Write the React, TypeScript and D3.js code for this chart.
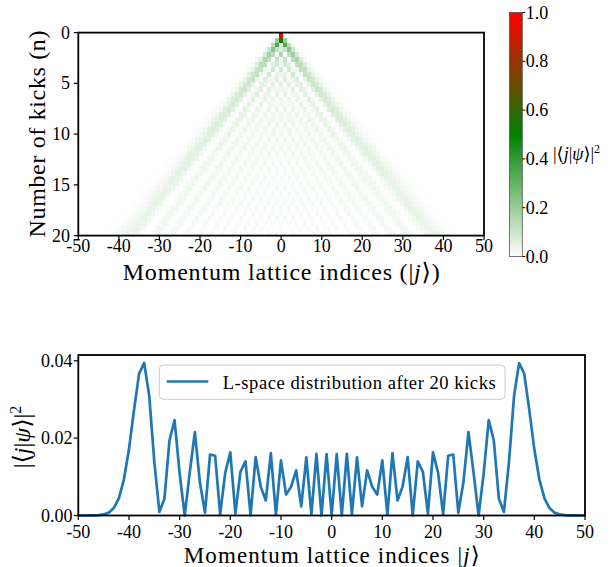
import React from "react";
import * as d3 from "d3";

// ---------- data ----------
// momentum lattice indices (columns of the map, x of the line plot)
const J_VALUES: number[] = d3.range(-50, 51);

// kick number of each heat-map row (half-kick resolution)
const KICK_ROWS: number[] = [
  0, 0.5, 1, 1.5, 2, 2.5, 3, 3.5, 4, 4.5, 5, 5.5, 6, 6.5, 7, 7.5, 8, 8.5, 9, 9.5,
  10, 10.5, 11, 11.5, 12, 12.5, 13, 13.5, 14, 14.5, 15, 15.5, 16, 16.5, 17, 17.5,
  18, 18.5, 19, 19.5, 20,
];

// probability levels used to encode the heat map (index = base-36 digit)
const PROB_LEVELS: number[] = [
  0, 0.003, 0.006, 0.01, 0.014, 0.018, 0.022, 0.027, 0.032, 0.038, 0.045, 0.052,
  0.06, 0.07, 0.08, 0.09, 0.1, 0.115, 0.13, 0.145, 0.16, 0.18, 0.2, 0.225, 0.25,
  0.28, 0.31, 0.34, 0.38, 0.43, 0.5, 0.58, 0.66, 0.76, 0.88, 1.0,
];

// |<j|psi>|^2 per row, for |j| = 0,1,2,... (the map is symmetric in j); missing = 0
const HEAT_ROWS: string[] = [
  "z",
  "vm4",
  "bri5",
  "dhng51",
  "k1ile51",
  "8h1ikd51",
  "6ec4iic51",
  "f0f77hhb51",
  "8b4f38hgb51",
  "3c68d1ahfa41",
  "c1c1ab0agfa41",
  "885b0c90bge941",
  "1b2982c71bfd941",
  "a2a0a54c62bfd941",
  "85682b26b42bec841",
  "0a1945a08b33cec842",
  "8381917809a24cdc842",
  "73754809619914cdb842",
  "09082661942a805bdb742",
  "637280843933a705bdb742",
  "7273561824814a606bca742",
  "080807338068059506bca742",
  "4453708157077069406bca732",
  "70726437075185079307bca732",
  "161707155073284078317bba632",
  "3433527063272383188217bb96321",
  "70606245172371472287217bb96321",
  "251606063270560571387127bb96321",
  "2524325061460650660386127ab96321",
  "60606153260540640660486128aa96321",
  "242516061450632731750485028aa86321",
  "1514234160531613622740585038aa86321",
  "50506052350623604613730584038aa85321",
  "333425050532604505504720674038aa85321",
  "0505143250513505405404621673038aa85321",
  "51505051431504405316405611673038a985321",
  "323324150513405216226305512673038a985321",
  "0505042331504315125126216502662048a975321",
  "414140504224052250350351264037620489975321",
  "4132332405043150340440451264037620489975321",
  "05050413224051240430530440363037510489975321",
];

// L-space distribution after 20 kicks, j = -50 .. 50
const PROB_AFTER_20: number[] = [
  0.0, 0.0, 0.00001, 0.00003, 0.00009, 0.00027, 0.00074, 0.00191, 0.00444, 0.00928,
  0.0171, 0.02731, 0.03666, 0.03941, 0.03091, 0.01391, 0.00093, 0.00435, 0.01944, 0.02468,
  0.01083, 0.0, 0.01113, 0.02153, 0.00857, 0.0007, 0.01576, 0.01545, 0.0003, 0.01106,
  0.01633, 0.00051, 0.0113, 0.014, 0.00003, 0.0151, 0.00747, 0.00389, 0.01612, 0.00019,
  0.01425, 0.0054, 0.00745, 0.01167, 0.00235, 0.01502, 0.00032, 0.01591, 0.0, 0.01588,
  0.00005,
  0.01588, 0.0, 0.01591, 0.00032, 0.01502, 0.00235, 0.01167, 0.00745, 0.0054, 0.01425,
  0.00019, 0.01612, 0.00389, 0.00747, 0.0151, 0.00003, 0.014, 0.0113, 0.00051, 0.01633,
  0.01106, 0.0003, 0.01545, 0.01576, 0.0007, 0.00857, 0.02153, 0.01113, 0.0, 0.01083,
  0.02468, 0.01944, 0.00435, 0.00093, 0.01391, 0.03091, 0.03941, 0.03666, 0.02731, 0.0171,
  0.00928, 0.00444, 0.00191, 0.00074, 0.00027, 0.00009, 0.00003, 0.00001, 0.0, 0.0,
];

const X_TICKS: number[] = [-50, -40, -30, -20, -10, 0, 10, 20, 30, 40, 50];
const Y_TICKS_TOP: number[] = [0, 5, 10, 15, 20];
const Y_TICKS_BOTTOM: number[] = [0, 0.02, 0.04];
const Y_TICK_LABELS_BOTTOM: string[] = ["0.00", "0.02", "0.04"];
const CBAR_TICKS: number[] = [0, 0.2, 0.4, 0.6, 0.8, 1.0];
const CBAR_TICK_LABELS: string[] = ["0.0", "0.2", "0.4", "0.6", "0.8", "1.0"];
const LEGEND_LABEL = "L-space distribution after 20 kicks";

const FONT = "Liberation Serif, Times New Roman, Times, DejaVu Serif, serif";
const TXT: React.CSSProperties = { fontFamily: FONT };

function BraKet({ supDy, supSize }: { supDy: number; supSize: number }) {
  return (
    <>
      |⟨<tspan fontStyle="italic">j</tspan>|<tspan fontStyle="italic">ψ</tspan>⟩|
      <tspan dy={-supDy} fontSize={supSize}>2</tspan>
    </>
  );
}

export default function App() {
  const W = 615;
  const H = 567;
  const top = { l: 78.3, r: 484, t: 32.6, b: 235.6 };
  const bot = { l: 78.3, r: 585, t: 355, b: 515.5 };
  const cb = { l: 509.5, r: 522.3, t: 12.5, b: 256.5 };

  const xTop = d3.scaleLinear().domain([-50, 50]).range([top.l, top.r]);
  const yTop = d3.scaleLinear().domain([0, 20]).range([top.t, top.b]);
  const xBot = d3.scaleLinear().domain([-50, 50]).range([bot.l, bot.r]);
  const yBot = d3.scaleLinear().domain([0, 0.04148]).range([bot.b, bot.t]);
  const yCb = d3.scaleLinear().domain([0, 1]).range([cb.b, cb.t]);
  const color = d3
    .scaleLinear<string>()
    .domain([0, 0.5, 1])
    .range(["#ffffff", "#008000", "#ff0000"])
    .interpolate(d3.interpolateRgb);

  const colSpan = 100 / J_VALUES.length;
  const rowSpan = 20 / KICK_ROWS.length;
  const cells: React.ReactElement[] = [];
  KICK_ROWS.forEach((_n, r) => {
    const code = HEAT_ROWS[r];
    J_VALUES.forEach((j, c) => {
      const ch = code[Math.abs(j)];
      const v = ch === undefined ? 0 : PROB_LEVELS[parseInt(ch, 36)];
      if (!(v > 0)) return;
      const x0 = xTop(-50 + c * colSpan);
      const x1 = xTop(-50 + (c + 1) * colSpan);
      const y0 = yTop(r * rowSpan);
      const y1 = yTop((r + 1) * rowSpan);
      cells.push(
        <rect key={`${r}_${c}`} x={x0} y={y0} width={x1 - x0} height={y1 - y0} fill={color(v)} />
      );
    });
  });

  const linePath =
    d3
      .line<number>()
      .x((_d, i) => xBot(J_VALUES[i]))
      .y((d) => yBot(d))(PROB_AFTER_20) || "";

  const tickW = 1.2;
  const tickL = 4.5;
  const tickFont = 18;

  return (
    <svg
      width={W}
      height={H}
      viewBox={`0 0 ${W} ${H}`}
      style={{ position: "absolute", left: 0, top: 0, background: "#ffffff", fontFamily: FONT }}
    >
      <defs>
        <linearGradient id="cbgrad" x1="0" y1="0" x2="0" y2="1">
          <stop offset="0%" stopColor="#ff0000" />
          <stop offset="50%" stopColor="#008000" />
          <stop offset="100%" stopColor="#ffffff" />
        </linearGradient>
      </defs>

      {/* ---------- top heat map ---------- */}
      <g shapeRendering="crispEdges">{cells}</g>
      <rect
        x={top.l}
        y={top.t}
        width={top.r - top.l}
        height={top.b - top.t}
        fill="none"
        stroke="#000"
        strokeWidth={1.8}
      />
      {X_TICKS.map((v) => (
        <g key={`xt${v}`}>
          <line x1={xTop(v)} x2={xTop(v)} y1={top.b} y2={top.b + tickL} stroke="#000" strokeWidth={tickW} />
          <text style={TXT} x={xTop(v)} y={252} textAnchor="middle" fontSize={tickFont} fill="#000">
            {String(v)}
          </text>
        </g>
      ))}
      {Y_TICKS_TOP.map((v) => (
        <g key={`yt${v}`}>
          <line x1={top.l - tickL} x2={top.l} y1={yTop(v)} y2={yTop(v)} stroke="#000" strokeWidth={tickW} />
          <text style={TXT} x={70} y={yTop(v) + 6} textAnchor="end" fontSize={tickFont} fill="#000">
            {String(v)}
          </text>
        </g>
      ))}
      <text style={TXT} x={281.2} y={280} textAnchor="middle" fontSize={24} textLength={317} lengthAdjust="spacing" fill="#000">
        Momentum lattice indices (|<tspan fontStyle="italic">j</tspan>⟩)
      </text>
      <text
        style={TXT}
        transform="translate(45,134) rotate(-90)"
        textAnchor="middle"
        fontSize={24}
        textLength={207}
        lengthAdjust="spacing"
        fill="#000"
      >
        Number of kicks (n)
      </text>

      {/* ---------- colour bar ---------- */}
      <rect x={cb.l} y={cb.t} width={cb.r - cb.l} height={cb.b - cb.t} fill="url(#cbgrad)" stroke="#555" strokeWidth={0.8} />
      {CBAR_TICKS.map((v, i) => (
        <g key={`cb${i}`}>
          <line x1={cb.r} x2={cb.r + 3} y1={yCb(v)} y2={yCb(v)} stroke="#000" strokeWidth={1} />
          <text style={TXT} x={cb.r + 3.5} y={yCb(v) + 6} fontSize={tickFont} fill="#000">
            {CBAR_TICK_LABELS[i]}
          </text>
        </g>
      ))}
      <text style={TXT} x={553} y={160} fontSize={18} fill="#000">
        <BraKet supDy={7} supSize={12} />
      </text>

      {/* ---------- bottom line plot ---------- */}
      <path d={linePath} fill="none" stroke="#1f77b4" strokeWidth={2.7} strokeLinejoin="round" />
      <rect
        x={bot.l}
        y={bot.t}
        width={bot.r - bot.l}
        height={bot.b - bot.t}
        fill="none"
        stroke="#000"
        strokeWidth={1.8}
      />
      {X_TICKS.map((v) => (
        <g key={`bxt${v}`}>
          <line x1={xBot(v)} x2={xBot(v)} y1={bot.b} y2={bot.b + tickL} stroke="#000" strokeWidth={tickW} />
          <text style={TXT} x={xBot(v)} y={537.5} textAnchor="middle" fontSize={tickFont} fill="#000">
            {String(v)}
          </text>
        </g>
      ))}
      {Y_TICKS_BOTTOM.map((v, i) => (
        <g key={`byt${i}`}>
          <line x1={bot.l - tickL} x2={bot.l} y1={yBot(v)} y2={yBot(v)} stroke="#000" strokeWidth={tickW} />
          <text style={TXT} x={72.5} y={yBot(v) + 6} textAnchor="end" fontSize={tickFont} fill="#000">
            {Y_TICK_LABELS_BOTTOM[i]}
          </text>
        </g>
      ))}
      <text style={TXT} x={331.7} y={562.5} textAnchor="middle" fontSize={23} textLength={296} lengthAdjust="spacing" fill="#000">
        Momentum lattice indices |<tspan fontStyle="italic">j</tspan>⟩
      </text>
      <text style={TXT} transform="translate(30,437) rotate(-90)" textAnchor="middle" fontSize={24} fill="#000">
        <BraKet supDy={9} supSize={16} />
      </text>

      {/* legend */}
      <rect x={159.3} y={365} width={345.7} height={34.3} rx={4} ry={4} fill="#ffffff" fillOpacity={0.8} stroke="#cccccc" strokeWidth={1} />
      <line x1={166.7} x2={208.3} y1={381.5} y2={381.5} stroke="#1f77b4" strokeWidth={2.7} />
      <text style={TXT} x={222.7} y={389} fontSize={18.6} textLength={273} lengthAdjust="spacing" fill="#000">
        {LEGEND_LABEL}
      </text>
    </svg>
  );
}
